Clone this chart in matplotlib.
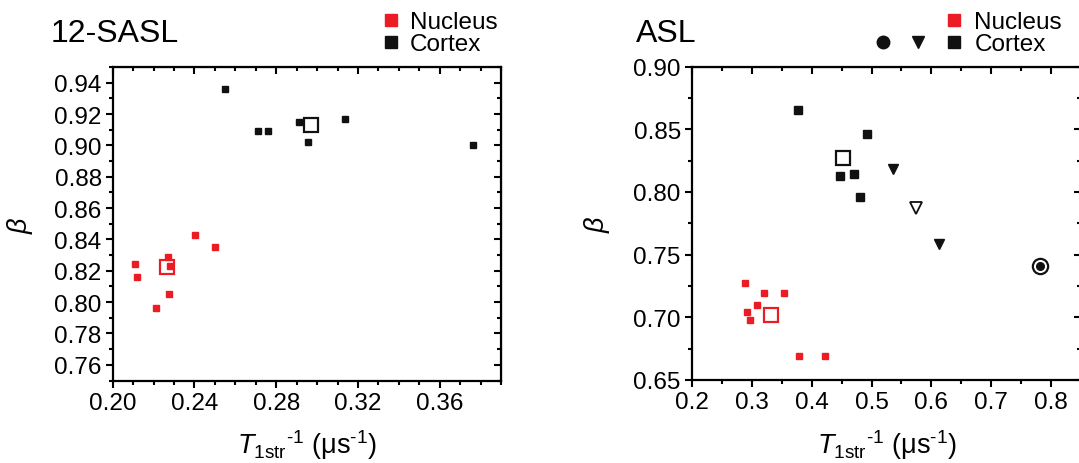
import matplotlib
matplotlib.use("Agg")
import matplotlib.pyplot as plt
from matplotlib.ticker import MultipleLocator, FormatStrFormatter
from matplotlib.lines import Line2D
from matplotlib.legend_handler import HandlerTuple

plt.rcParams['font.family'] = ['Liberation Sans', 'DejaVu Sans']
plt.rcParams['mathtext.fontset'] = 'custom'
plt.rcParams['mathtext.rm'] = 'Liberation Sans'
plt.rcParams['mathtext.it'] = 'Liberation Sans:italic'

RED = '#ec1c24'
BLK = '#111111'

# ---- 12-SASL ----
sasl_cortex_x = [0.255, 0.271, 0.276, 0.291, 0.2956, 0.3139, 0.3764]
sasl_cortex_y = [0.936, 0.909, 0.909, 0.9147, 0.9024, 0.917, 0.9003]
sasl_cortex_mean = (0.2969, 0.9132)
sasl_nucleus_x = [0.2107, 0.2119, 0.2272, 0.2281, 0.2273, 0.2213, 0.2402, 0.2498]
sasl_nucleus_y = [0.8242, 0.8163, 0.8289, 0.8232, 0.8055, 0.7961, 0.8429, 0.835]
sasl_nucleus_mean = (0.2265, 0.8221)

# ---- ASL ----
asl_cortex_x = [0.3776, 0.4925, 0.4477, 0.4707, 0.481]
asl_cortex_y = [0.865, 0.8462, 0.813, 0.8141, 0.7958]
asl_cortex_mean = (0.4529, 0.8271)
asl_tri_x = [0.5362, 0.6132]
asl_tri_y = [0.8183, 0.7582]
asl_tri_mean = (0.5736, 0.7873)
asl_circ = (0.7816, 0.741)
asl_nucleus_x = [0.2885, 0.292, 0.2966, 0.3086, 0.3207, 0.3534, 0.3782, 0.4224]
asl_nucleus_y = [0.7274, 0.7043, 0.698, 0.7099, 0.7197, 0.7197, 0.6691, 0.6691]
asl_nucleus_mean = (0.3322, 0.7017)

FS = 17.5
XLABEL = r'$T_{\rm 1str}{}^{\text{-1}}$ (μs$^{\text{-1}}$)'

fig = plt.figure(figsize=(10.79, 4.64), dpi=100)
ax1 = fig.add_axes([0.1045, 0.1778, 0.3598, 0.6756])
ax2 = fig.add_axes([0.6413, 0.1789, 0.3606, 0.6756])


def style_axes(ax, xmaj, xmin, ymaj, ymin, xfmt, yfmt):
    for s in ax.spines.values():
        s.set_linewidth(1.6)
    ax.xaxis.set_major_locator(MultipleLocator(xmaj))
    ax.xaxis.set_minor_locator(MultipleLocator(xmin))
    ax.yaxis.set_major_locator(MultipleLocator(ymaj))
    ax.yaxis.set_minor_locator(MultipleLocator(ymin))
    ax.xaxis.set_major_formatter(FormatStrFormatter(xfmt))
    ax.yaxis.set_major_formatter(FormatStrFormatter(yfmt))
    ax.tick_params(which='both', direction='out', top=False, right=False,
                   labelsize=FS, width=1.5)
    ax.tick_params(which='major', length=5, pad=3)
    ax.tick_params(which='minor', length=3)
    # mirrored ticks pointing inward
    sx = ax.secondary_xaxis('top')
    sx.xaxis.set_major_locator(MultipleLocator(xmaj))
    sx.xaxis.set_minor_locator(MultipleLocator(xmin))
    sx.tick_params(which='both', direction='in', labeltop=False, width=1.5)
    sx.tick_params(which='major', length=5)
    sx.tick_params(which='minor', length=3)
    sy = ax.secondary_yaxis('right')
    sy.yaxis.set_major_locator(MultipleLocator(ymaj))
    sy.yaxis.set_minor_locator(MultipleLocator(ymin))
    sy.tick_params(which='both', direction='in', labelright=False, width=1.5)
    sy.tick_params(which='major', length=5)
    sy.tick_params(which='minor', length=3)
    ax.set_xlabel(XLABEL, fontsize=19.5, labelpad=10)
    ax.set_ylabel(r'$\beta$', fontsize=19.5)


# left panel
ax1.set_xlim(0.20, 0.39)
ax1.set_ylim(0.75, 0.95)
ax1.plot(sasl_cortex_x, sasl_cortex_y, 's', color=BLK, ms=4.8, ls='none')
ax1.plot(sasl_nucleus_x, sasl_nucleus_y, 's', color=RED, ms=4.8, ls='none')
ax1.plot(*sasl_cortex_mean, 's', mfc='none', mec=BLK, mew=1.6, ms=10)
ax1.plot(*sasl_nucleus_mean, 's', mfc='none', mec=RED, mew=1.6, ms=10)
style_axes(ax1, 0.04, 0.01, 0.02, 0.01, '%.2f', '%.2f')
ax1.yaxis.set_label_coords(-0.2, 0.5)
ax1.text(-0.159, 1.108, '12-SASL', transform=ax1.transAxes, fontsize=23,
         va='center', ha='left')
h_nuc = Line2D([], [], marker='s', color=RED, ls='none', ms=9)
h_cor = Line2D([], [], marker='s', color=BLK, ls='none', ms=9)
ax1.legend([h_nuc, h_cor], ['Nucleus', 'Cortex'], loc='upper left',
           bbox_to_anchor=(381 / 1079, 1 - 12 / 464), bbox_transform=fig.transFigure,
           frameon=False, fontsize=FS, handlelength=0.8, handletextpad=0.4,
           borderpad=0, borderaxespad=0, labelspacing=0.0)

# right panel
ax2.set_xlim(0.2, 0.85)
ax2.set_ylim(0.65, 0.90)
ax2.plot(asl_cortex_x, asl_cortex_y, 's', color=BLK, ms=5.5, ls='none')
ax2.plot(asl_tri_x, asl_tri_y, 'v', color=BLK, ms=7, ls='none')
ax2.plot(asl_nucleus_x, asl_nucleus_y, 's', color=RED, ms=4.5, ls='none')
ax2.plot(*asl_cortex_mean, 's', mfc='none', mec=BLK, mew=1.6, ms=10)
ax2.plot(*asl_tri_mean, 'v', mfc='none', mec=BLK, mew=1.3, ms=9)
ax2.plot(*asl_nucleus_mean, 's', mfc='none', mec=RED, mew=1.6, ms=10)
ax2.plot(*asl_circ, 'o', mfc='none', mec=BLK, mew=1.6, ms=11)
ax2.plot(*asl_circ, 'o', color=BLK, ms=5.5)
style_axes(ax2, 0.1, 0.05, 0.05, 0.025, '%.1f', '%.2f')
ax2.yaxis.set_label_coords(-0.205, 0.5)
ax2.text(-0.144, 1.106, 'ASL', transform=ax2.transAxes, fontsize=23,
         va='center', ha='left')
blank = Line2D([], [], ls='none', marker='')
h_circ = Line2D([], [], marker='o', color=BLK, ls='none', ms=9)
h_tri = Line2D([], [], marker='v', color=BLK, ls='none', ms=9)
h_sq = Line2D([], [], marker='s', color=BLK, ls='none', ms=9)
h_rsq = Line2D([], [], marker='s', color=RED, ls='none', ms=9)
ax2.legend([(blank, blank, h_rsq), (h_circ, h_tri, h_sq)], ['Nucleus', 'Cortex'],
           handler_map={tuple: HandlerTuple(ndivide=None, pad=0)},
           loc='upper left', bbox_to_anchor=(865 / 1079, 1 - 12 / 464),
           bbox_transform=fig.transFigure, frameon=False, fontsize=FS,
           handlelength=4.4, handletextpad=0.1, borderpad=0, borderaxespad=0,
           labelspacing=0.0)

fig.savefig('out.png', dpi=100)
